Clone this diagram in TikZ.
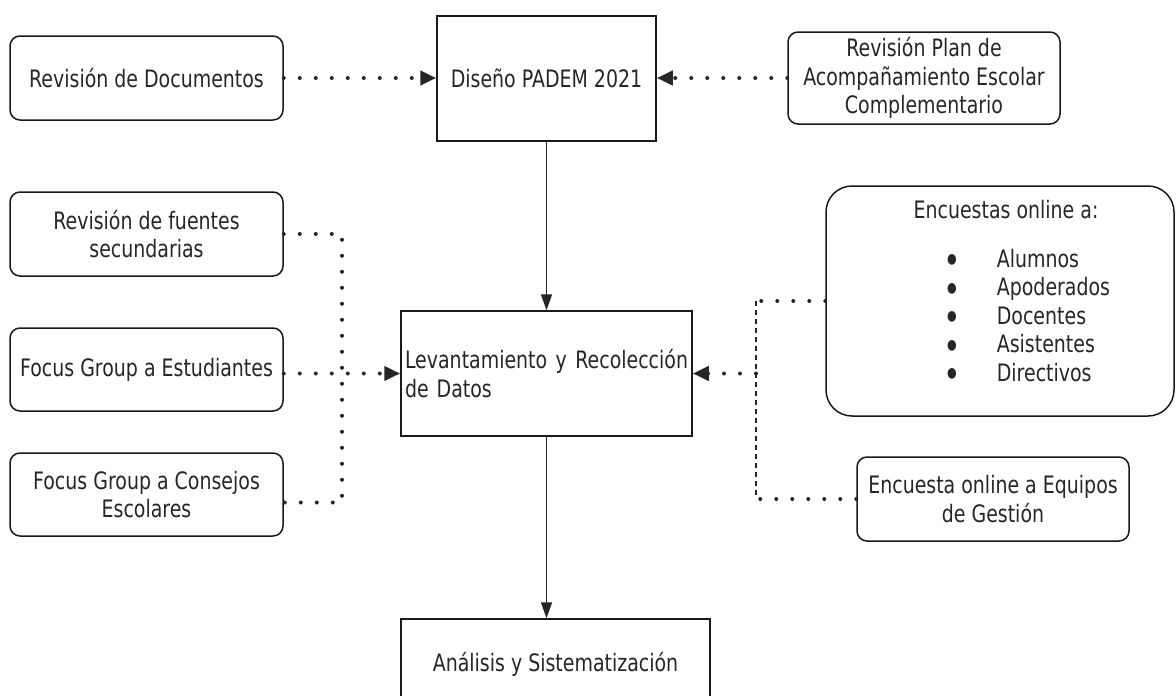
\documentclass[tikz,border=0pt]{standalone}
\usepackage{fontspec}
\setmainfont{DejaVu Sans}[FakeStretch=0.79]
\usetikzlibrary{arrows.meta, calc}
\newcommand{\diagfont}{\fontsize{24pt}{28.5pt}\selectfont}
\newcommand{\listbullet}{\raisebox{3.5pt}{\fontsize{14pt}{15pt}\selectfont ●}}

\begin{document}
\begin{tikzpicture}[
x=1pt, y=-1pt,
% boxes
box/.style={draw=black!90, line width=1.5pt, fill=white, text=black!85, font=\diagfont, inner sep=0pt, align=center},
srcbox/.style={box, rounded corners=10pt, minimum width=273pt, minimum height=84pt},
procbox/.style={box, minimum height=125pt},
listtext/.style={text=black!85, font=\diagfont, inner sep=0pt},
% connectors
flow/.style={draw=black!85, line width=1.5pt, -{Triangle[length=16pt, width=11pt]}},
dotlink/.style={draw=black!85, line width=4pt, line cap=round, dash pattern=on 0pt off 16pt},
dotarrow/.style={dotlink, -{Triangle[length=16pt, width=14pt]}},
dashlink/.style={draw=black!85, line width=1.5pt, dash pattern=on 5pt off 4pt}
]

\useasboundingbox (0,0) rectangle (1176,696);
\clip (0,0) rectangle (1176,696);

% JOIN COORDINATES
\coordinate (leftjoin) at (342,0);
\coordinate (rightjoin) at (756,0);

% MAIN STEPS
\node[procbox, minimum width=219pt] (padem) at (546.5,78.5) {Diseño PADEM 2021};
\node[procbox, minimum width=291pt, text width=283pt, align=left] (datos) at (546.5,373.5)
{Levantamiento\hfill y\hfill Recolección\\de Datos};
\node[procbox, minimum width=309pt, minimum height=90pt] (analisis) at (555.5,664) {Análisis y Sistematización};

% SOURCES, left
\node[srcbox] (revdoc) at (146.5,78) {Revisión de Documentos};
\node[srcbox] (fuentes) at (146.5,234) {Revisión de fuentes\\secundarias};
\node[srcbox, minimum height=83pt] (estud) at (146.5,369.5) {Focus Group a Estudiantes};
\node[srcbox, minimum height=83pt] (consejos) at (146.5,494.5) {Focus Group a Consejos\\Escolares};

% SOURCES, right
\node[srcbox, minimum width=272pt, minimum height=92pt] (revplan) at (924,78) {Revisión Plan de\\Acompañamiento Escolar\\Complementario};
\node[srcbox, rounded corners=26pt, minimum width=348pt, minimum height=230pt] (encuestas) at (1000,301) {};
\node[listtext] (enctitle) at (1006,210) {Encuestas online a:};
\node[listtext, anchor=west] (enclist) at (947,318.5) {\begin{tabular}{@{}l@{\hspace{40pt}}l@{}}
\listbullet & Alumnos\\
\listbullet & Apoderados\\
\listbullet & Docentes\\
\listbullet & Asistentes\\
\listbullet & Directivos
\end{tabular}};
\node[srcbox, minimum width=272pt] (gestion) at (993,499) {Encuesta online a Equipos\\de Gestión};

% FLOW
\draw[flow] (padem) -- (datos);
\draw[flow] (datos.south) -- (datos.south |- analisis.north);

% dotted links into the steps
\draw[dotarrow] (revdoc.east) -- (revdoc.east -| padem.west);
\draw[dotarrow] (revplan.west) -- (revplan.west -| padem.east);
\coordinate (consejosout) at ([yshift=-8pt]consejos.east);
\draw[dotlink] (fuentes.east) -| (leftjoin |- consejosout) -- (consejosout);
\draw[dotarrow] (estud.east |- datos.west) -- (datos.west);
\draw[dotlink] (encuestas.west) -- (rightjoin |- encuestas.west);
\draw[dashlink] (rightjoin |- encuestas.west) -- (rightjoin |- gestion.west);
\draw[dotlink] (gestion.west) -- (rightjoin |- gestion.west);
\draw[dotarrow] (rightjoin |- datos.east) -- (datos.east);

\end{tikzpicture}
\end{document}
